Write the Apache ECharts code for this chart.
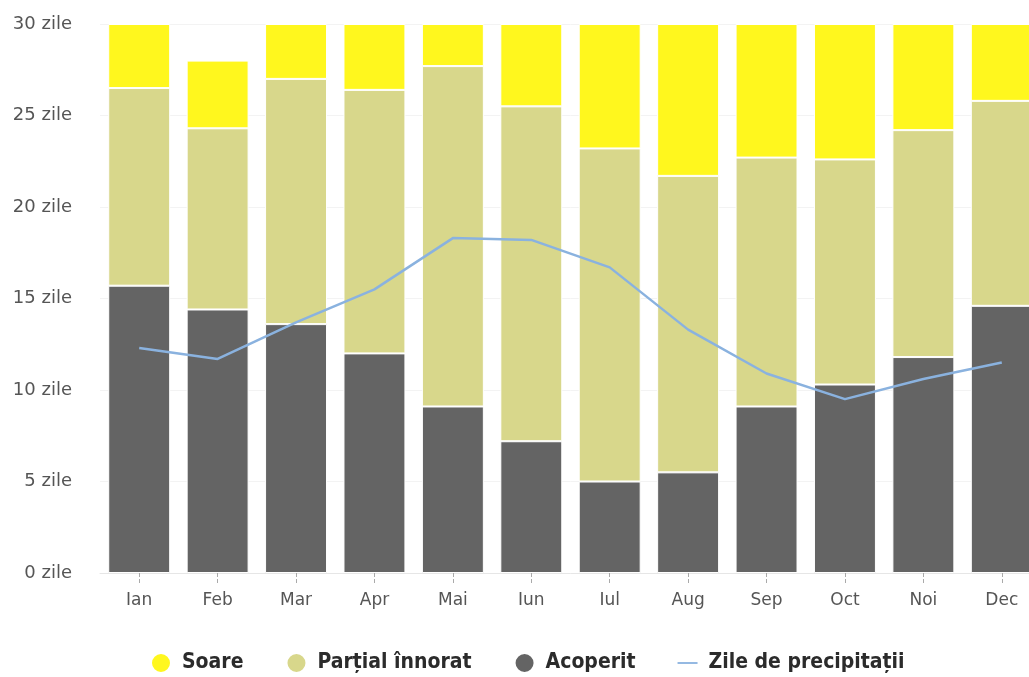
<!DOCTYPE html>
<html>
<head>
<meta charset="utf-8">
<script src="https://cdn.jsdelivr.net/npm/echarts@6/dist/echarts.min.js"></script>
<style>
html,body{margin:0;padding:0;background:#fff;overflow:hidden;width:1029px;height:677px;}
#chart{width:1060px;height:677px;}
</style>
</head>
<body>
<div id="chart"></div>
<script>
const months = ['Ian','Feb','Mar','Apr','Mai','Iun','Iul','Aug','Sep','Oct','Noi','Dec'];
const acoperit = [15.7, 14.4, 13.6, 12.0, 9.1, 7.2, 5.0, 5.5, 9.1, 10.3, 11.8, 14.6];
const partial = [10.8, 9.9, 13.4, 14.4, 18.6, 18.3, 18.2, 16.2, 13.6, 12.3, 12.4, 11.2];
const soare = [3.5, 3.7, 3.0, 3.6, 2.3, 4.5, 6.8, 8.3, 7.3, 7.4, 5.8, 4.2];
const precip = [12.3, 11.7, 13.7, 15.5, 18.3, 18.2, 16.7, 13.3, 10.9, 9.5, 10.6, 11.5];
const yTicks = { min: 0, max: 30, interval: 5 };

const chart = echarts.init(document.getElementById('chart'));
const font = 'DejaVu Sans';
const barCommon = {
  type: 'bar', stack: 'zile', barWidth: '79%',
  itemStyle: { borderColor: '#ffffff', borderWidth: 1 },
  emphasis: { disabled: true }
};
chart.setOption({
  animation: false,
  grid: { left: 100, top: 24, width: 941, height: 549 },
  legend: {
    top: 647, left: 145,
    itemGap: 42, itemWidth: 20, itemHeight: 20,
    textStyle: { fontFamily: 'DejaVu Sans Condensed', fontWeight: 'bold', fontSize: 21, color: '#2b2b2b', padding: [0,0,0,6] },
    data: [
      { name: 'Soare', icon: 'circle' },
      { name: 'Parțial înnorat', icon: 'circle' },
      { name: 'Acoperit', icon: 'circle' },
      { name: 'Zile de precipitații', icon: 'path://M0,9 L22,9 L22,11 L0,11 Z' }
    ]
  },
  xAxis: {
    type: 'category', data: months,
    axisLine: { show: true, lineStyle: { color: '#e6e6e6' } },
    axisTick: { show: true, alignWithLabel: true, length: 11, lineStyle: { color: '#aaa', type: 'dashed' } },
    axisLabel: { fontFamily: font, fontSize: 17, color: '#555', margin: 19 }
  },
  yAxis: {
    type: 'value', min: yTicks.min, max: yTicks.max, interval: yTicks.interval,
    axisLabel: { formatter: '{value} zile', fontFamily: font, fontSize: 18, color: '#555', margin: 28 },
    splitLine: { lineStyle: { color: '#f3f3f3' } },
    axisLine: { show: false }, axisTick: { show: false }
  },
  series: [
    Object.assign({}, barCommon, { name: 'Acoperit', data: acoperit, color: '#646464' }),
    Object.assign({}, barCommon, { name: 'Parțial înnorat', data: partial, color: '#d8d78b' }),
    Object.assign({}, barCommon, { name: 'Soare', data: soare, color: '#fff71e' }),
    { type: 'line', name: 'Zile de precipitații', data: precip, color: '#8ab2df',
      showSymbol: false, symbol: 'none', lineStyle: { width: 2.5, color: '#8ab2df' }, z: 5 }
  ]
});
</script>
</body>
</html>
